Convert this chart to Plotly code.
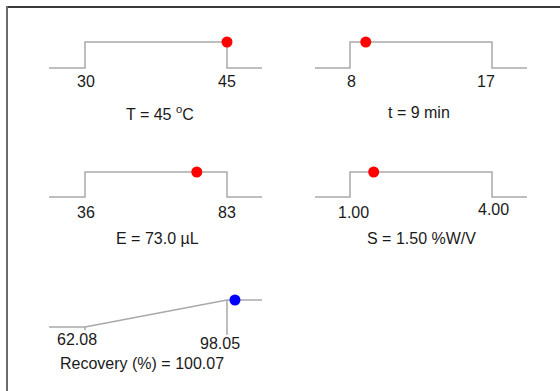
import plotly.graph_objects as go

# ---------------- data ----------------
factor_names = ["T", "t", "E", "S"]
factor_units = ["<sup>o</sup>C", "min", "µL", "%W/V"]
factor_low = [30, 8, 36, 1.00]
factor_high = [45, 17, 83, 4.00]
factor_value = [45, 9, 73.0, 1.50]
factor_value_text = ["45", "9", "73.0", "1.50"]
factor_tick_labels = [["30", "45"], ["8", "17"], ["36", "83"], ["1.00", "4.00"]]

response_name = "Recovery (%)"
response_low = 62.08
response_high = 98.05
response_value = 100.07
response_value_text = "100.07"
response_tick_labels = ["62.08", "98.05"]

# ---------------- layout helpers (pixels) ----------------
W, H = 560, 391
FONT = "Liberation Sans, Arial, sans-serif"
FS = 16
TXT = "#1a1a1a"
LINE = "#a9a9a9"


def px(x):
    return x / W


def py(y):
    return 1 - y / H


# panel geometry: left, a(low px), b(high px), right, low-line y, top-line y
panels = [
    dict(L=49, a=85, b=227, R=262, y0=68, y1=42, tx=160, ty=113),
    dict(L=315, a=350, b=492, R=527, y0=68, y1=42, tx=419, ty=113),
    dict(L=49, a=85, b=227, R=262, y0=197, y1=172, tx=157, ty=238),
    dict(L=315, a=350, b=492, R=527, y0=197, y1=172, tx=421, ty=238),
    dict(L=49, a=85, b=227, R=262, y0=327, y1=300, tx=142, ty=363),
]
tick_offsets = [
    [(1, 14), (0, 14)],
    [(1, 14), (-6, 14)],
    [(1, 15), (0, 15)],
    [(3, 15), (1, 12)],
    [(-8, 12), (-7, 16)],
]

fig = go.Figure()
layout = dict(
    width=W, height=H,
    margin=dict(l=0, r=0, t=0, b=0),
    paper_bgcolor="white", plot_bgcolor="rgba(0,0,0,0)",
    showlegend=False,
    font=dict(family=FONT, size=FS, color=TXT),
)
annotations = []

lows = factor_low + [response_low]
highs = factor_high + [response_high]
values = factor_value + [response_value]

for i, p in enumerate(panels):
    lo, hi = lows[i], highs[i]
    s = (hi - lo) / (p["b"] - p["a"])
    xr = [lo - (p["a"] - p["L"]) * s, hi + (p["R"] - p["b"]) * s]
    span = p["y0"] - p["y1"]
    pad = 20
    yr = [-pad / span, 1 + pad / span]
    sfx = "" if i == 0 else str(i + 1)
    layout["xaxis" + sfx] = dict(domain=[px(p["L"]), px(p["R"])], range=xr, visible=False,
                                 anchor="y" + sfx, fixedrange=True)
    layout["yaxis" + sfx] = dict(domain=[py(p["y0"] + pad), py(p["y1"] - pad)], range=yr,
                                 visible=False, anchor="x" + sfx, fixedrange=True)
    xa, ya = "x" + sfx, "y" + sfx
    ext_l, ext_r = xr[0], xr[1]
    if i < 4:
        xs = [ext_l, lo, lo, hi, hi, ext_r]
        ys = [0, 0, 1, 1, 0, 0]
        fig.add_trace(go.Scatter(x=xs, y=ys, mode="lines", line=dict(color=LINE, width=1.5),
                                 xaxis=xa, yaxis=ya, hoverinfo="skip"))
        fig.add_trace(go.Scatter(x=[values[i]], y=[1], mode="markers",
                                 marker=dict(color="#ff0000", size=11, line=dict(width=0)),
                                 xaxis=xa, yaxis=ya, cliponaxis=False))
        title = f"{factor_names[i]} = {factor_value_text[i]} {factor_units[i]}"
        labels = factor_tick_labels[i]
    else:
        xs = [ext_l, lo, hi, ext_r]
        ys = [0, 0, 1, 1]
        fig.add_trace(go.Scatter(x=xs, y=ys, mode="lines", line=dict(color=LINE, width=1.5),
                                 xaxis=xa, yaxis=ya, hoverinfo="skip"))
        fig.add_trace(go.Scatter(x=[hi, hi], y=[1, -0.3], mode="lines",
                                 line=dict(color=LINE, width=1.5), xaxis=xa, yaxis=ya))
        fig.add_trace(go.Scatter(x=[lo, lo], y=[0, -0.12], mode="lines",
                                 line=dict(color=LINE, width=1.5), xaxis=xa, yaxis=ya))
        fig.add_trace(go.Scatter(x=[values[i]], y=[1], mode="markers",
                                 marker=dict(color="#0000ff", size=11, line=dict(width=0)),
                                 xaxis=xa, yaxis=ya, cliponaxis=False))
        title = f"{response_name} = {response_value_text}"
        labels = response_tick_labels
    for (val, lab, (dx, dy)) in zip([lo, hi], labels, tick_offsets[i]):
        annotations.append(dict(x=val, y=0, xref=xa, yref=ya, text=lab, showarrow=False,
                                xanchor="center", yanchor="middle", xshift=dx, yshift=-dy,
                                font=dict(family=FONT, size=FS, color=TXT)))
    annotations.append(dict(x=px(p["tx"]), y=py(p["ty"]), xref="paper", yref="paper",
                            text=title, showarrow=False, xanchor="center", yanchor="middle",
                            font=dict(family=FONT, size=FS, color=TXT)))

layout["annotations"] = annotations
layout["shapes"] = [
    dict(type="line", xref="paper", yref="paper", x0=px(6), x1=1, y0=py(7), y1=py(7),
         line=dict(color="#3a3a3a", width=2)),
    dict(type="line", xref="paper", yref="paper", x0=px(7), x1=px(7), y0=py(6), y1=0,
         line=dict(color="#6a6a6a", width=2)),
]
fig.update_layout(**layout)
fig.write_html("out.html")
